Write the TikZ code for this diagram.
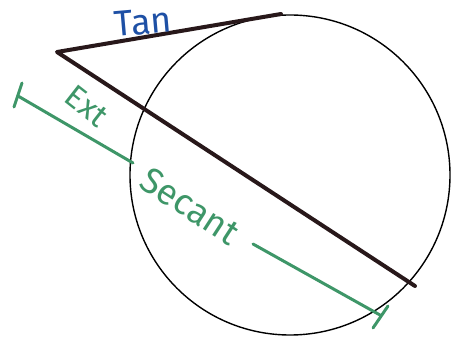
\documentclass[tikz,border=0pt]{standalone}
\usepackage{fontspec}
\setmainfont{Fira Sans}
\definecolor{penblack}{RGB}{40,24,26}
\definecolor{pengreen}{RGB}{62,150,104}
\definecolor{penblue}{RGB}{30,80,165}
\begin{document}
\begin{tikzpicture}[x=1pt,y=-1pt,
  seg/.style={draw=penblack, line width=4pt, line cap=round, line join=round},
  grn/.style={draw=pengreen, line width=3pt, line cap=round},
  lbl/.style={inner sep=0pt, font=\fontsize{36}{36}\selectfont}]
\useasboundingbox (0,0) rectangle (451,337);
\node[circle, draw=black, minimum size=320pt, inner sep=0pt, line width=1.4pt] (c) at (290,175) {};
\coordinate (P) at (57,52);
\coordinate (T) at (281,14);
\coordinate (S) at (415,286);
\draw[seg] (T) -- (P) -- (S);
\coordinate (G1) at (18,96);
\coordinate (G2) at (133,163);
\coordinate (G3) at (253,244);
\coordinate (G4) at (380,315);
\coordinate (G1a) at (22,83);
\coordinate (G1b) at (14,107);
\coordinate (G4a) at (388,306);
\coordinate (G4b) at (373,328);
\draw[grn] (G1) -- (G2);
\draw[grn] (G3) -- (G4);
\draw[grn] (G1a) -- (G1b);
\draw[grn] (G4a) -- (G4b);
\node[lbl, text=penblue, rotate=5] (tan) at (143,22) {Tan};
\node[lbl, text=pengreen, rotate=-38, font=\fontsize{32}{32}\selectfont] (ext) at (87,106) {Ext};
\node[lbl, text=pengreen, rotate=-33] (sec) at (190,206) {Secant};
\end{tikzpicture}
\end{document}
